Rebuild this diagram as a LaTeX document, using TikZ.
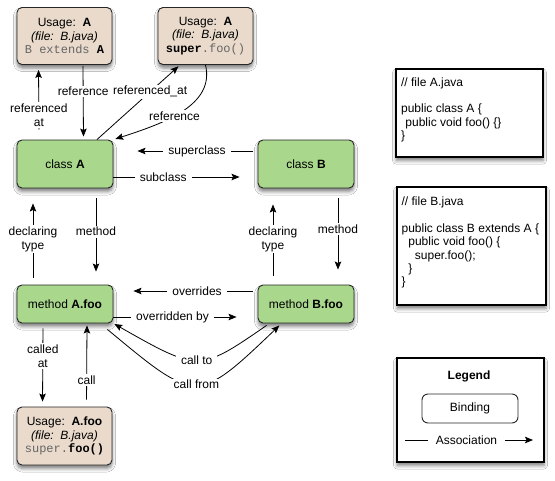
\documentclass[tikz,border=0pt]{standalone}
\usepackage{fontspec}
\setmainfont{Liberation Sans}
\setmonofont{Liberation Mono}
\usetikzlibrary{arrows.meta,shadows.blur}
\definecolor{usagefill}{HTML}{E9DACB}
\definecolor{bindfill}{HTML}{A9D88D}
\definecolor{codegray}{HTML}{666666}
\tikzset{
  softshadow/.style={blur shadow={shadow xshift=0pt, shadow yshift=-3.5pt, shadow blur radius=3.5pt, shadow opacity=50}},
  basebox/.style={draw=black!85, line width=0.9pt, rounded corners=5pt, align=center,
    font=\fontsize{12}{13.5}\selectfont, inner sep=0pt},
  usagebox/.style={basebox, fill=usagefill, minimum width=95pt, minimum height=57pt, softshadow},
  bindbox/.style={basebox, fill=bindfill, minimum width=96pt, minimum height=48pt, softshadow},
  methbox/.style={bindbox, minimum height=38pt},
  rel/.style={line width=0.8pt, -{Stealth[length=8pt,width=6.5pt,inset=1.5pt]}},
  lbl/.style={fill=white, inner xsep=5pt, inner ysep=1.5pt, font=\fontsize{12}{14}\selectfont, align=center},
  filebox/.style={draw=black, line width=1.1pt, fill=white, sharp corners, inner sep=0pt, softshadow},
  codetext/.style={font=\fontsize{12}{13.3}\selectfont, align=left, inner sep=0pt, anchor=north west}
}
\begin{document}
\begin{tikzpicture}[x=1pt,y=-1pt]
\useasboundingbox (0,0) rectangle (555,480);
\fill[white] (0,0) rectangle (555,480);

% Usage nodes
\node[usagebox] (uA) at (64.5,36) {Usage:\ \ \textbf{A}\\\textit{(file:\ \ B.java)}\\{\ttfamily\color{codegray}B extends \textbf{\color{black}A}}};
\node[usagebox] (uS) at (205.5,36) {Usage:\ \ \textbf{A}\\\textit{(file:\ \ B.java)}\\{\ttfamily\textbf{super}\color{codegray}.foo()}};
\node[usagebox, minimum height=58pt] (uF) at (64.5,436) {Usage:\ \ \textbf{A.foo}\\\textit{(file:\ \ B.java)}\\{\ttfamily\color{codegray}super.\textbf{\color{black}foo()}}};

% Binding nodes
\node[bindbox] (cA) at (65,164) {class \textbf{A}};
\node[bindbox] (cB) at (306,164) {class \textbf{B}};
\node[methbox] (mA) at (65,304) {method \textbf{A.foo}};
\node[methbox] (mB) at (306,304) {method \textbf{B.foo}};

% Top connectors
\draw[rel, shorten <=10pt, shorten >=5pt] ([xshift=-26pt]cA.north) -- node[lbl,pos=0.33]{referenced\\at} ([xshift=-26pt]uA.south);
\draw[rel, shorten <=1pt, shorten >=3pt] ([xshift=18.5pt]uA.south) -- node[lbl,pos=0.355]{reference} ([xshift=18.5pt]cA.north);
\draw[rel, shorten >=2pt] ([xshift=32pt]cA.north) -- node[lbl,pos=0.64]{referenced\_at} ([xshift=-25.5pt]uS.south);
\draw[rel, shorten >=2pt] (uS.south) .. controls (215,105) and (165,123) .. node[lbl,pos=0.57]{reference} (cA.north east);

% class A <-> class B
\draw[rel, shorten <=5pt, shorten >=24pt] ([yshift=13pt]cB.west) -- node[lbl,pos=0.42]{superclass} ([yshift=13pt]cA.east);
\draw[rel, shorten >=18pt] ([yshift=-13pt]cA.east) -- node[lbl,pos=0.345]{subclass} ([yshift=-13pt]cB.west);

% vertical class <-> method
\draw[rel, shorten <=10pt, shorten >=13pt] ([xshift=31pt]cA.south) -- node[lbl,pos=0.45]{method} ([xshift=31pt]mA.north);
\draw[rel, shorten <=7pt, shorten >=15pt] ([xshift=-32pt]mA.north) -- node[lbl,pos=0.47]{declaring\\type} ([xshift=-32pt]cA.south);
\draw[rel, shorten <=10pt, shorten >=15pt] ([xshift=32pt]cB.south) -- node[lbl,pos=0.42]{method} ([xshift=32pt]mB.north);
\draw[rel, shorten <=9pt, shorten >=16pt] ([xshift=-33pt]mB.north) -- node[lbl,pos=0.47]{declaring\\type} ([xshift=-33pt]cB.south);

% method A.foo <-> method B.foo
\draw[rel, shorten <=5pt, shorten >=20pt] ([yshift=13pt]mB.west) -- node[lbl,pos=0.42]{overrides} ([yshift=13pt]mA.east);
\draw[rel, shorten >=21pt] ([yshift=-13pt]mA.east) -- node[lbl,pos=0.41]{overridden by} ([yshift=-13pt]mB.west);
\draw[rel, shorten >=1pt] ([xshift=9pt,yshift=-2pt]mB.south west) .. controls (199,372) .. node[lbl,pos=0.5]{call to} (mA.south east);
\draw[rel, shorten >=3pt] ([xshift=-6pt,yshift=-6pt]mA.south east) .. controls (197,404) .. node[lbl,pos=0.5]{call from} ([xshift=24pt]mB.south west);

% method A.foo <-> usage
\draw[rel, shorten <=5pt, shorten >=5pt] ([xshift=-22pt]mA.south) -- node[lbl,pos=0.39]{called\\at} ([xshift=-22pt]uF.north);
\draw[rel, shorten <=7pt, shorten >=2pt] ([xshift=22pt]uF.north) -- node[lbl,pos=0.32]{call} ([xshift=22pt]mA.south);

% Source files
\node[filebox, minimum width=147pt, minimum height=88pt] (fileA) at (469.5,113) {};
\node[codetext] (fileAtxt) at ([xshift=5.5pt,yshift=-9pt]fileA.north west)
  {// file A.java\\[13.3pt]public class A \{\\\hspace*{4.3pt}public void foo() \{\}\\\}};
\node[filebox, minimum width=149pt, minimum height=118pt] (fileB) at (471.5,246) {};
\node[codetext] (fileBtxt) at ([xshift=5pt,yshift=-10.5pt]fileB.north west)
  {// file B.java\\[13.3pt]public class B extends A \{\\\hspace*{6.7pt}public void foo() \{\\\hspace*{13.3pt}super.foo();\\\hspace*{6.7pt}\}\\\}};

% Legend
\node[filebox, minimum width=147pt, minimum height=104pt] (legend) at (470.5,410) {};
\node[font=\fontsize{12}{14}\selectfont\bfseries, inner sep=0pt] (legendtitle) at (469,376) {Legend};
\node[basebox, fill=white, minimum width=96pt, minimum height=29pt, rounded corners=6pt] (binding) at (470,408.5) {Binding};
\coordinate (assocL) at (405,440);
\coordinate (assocR) at (533,440);
\draw[rel] (assocL) -- node[lbl, inner xsep=8pt, pos=0.48]{Association} (assocR);
\end{tikzpicture}
\end{document}
